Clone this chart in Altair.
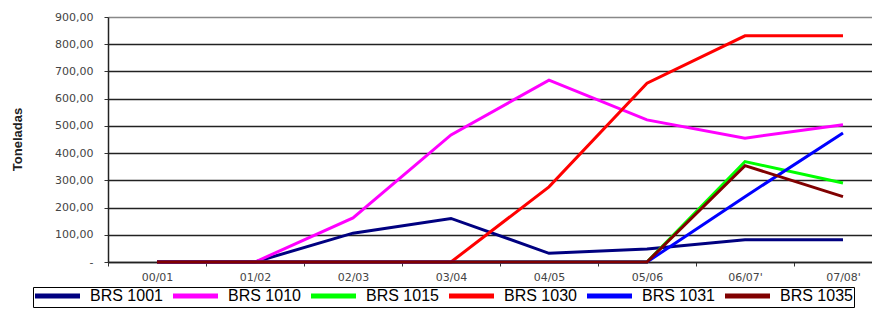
import json
import altair as alt
import pandas as pd

seasons = ["00/01", "01/02", "02/03", "03/04", "04/05", "05/06", "06/07'", "07/08'"]
series_names = ["BRS 1001", "BRS 1010", "BRS 1015", "BRS 1030", "BRS 1031", "BRS 1035"]
brs1001 = [0, 0, 106, 160, 32, 48, 82, 82]
brs1010 = [0, 0, 162, 467, 668, 522, 455, 504]
brs1015 = [0, 0, 0, 0, 0, 0, 369, 290]
brs1030 = [0, 0, 0, 0, 276, 657, 831, 831]
brs1031 = [0, 0, 0, 0, 0, 0, 240, 474]
brs1035 = [0, 0, 0, 0, 0, 0, 354, 240]
colors = ["#000080", "#FF00FF", "#00FF00", "#FF0000", "#0000FF", "#800000"]
y_ticks = [0, 100, 200, 300, 400, 500, 600, 700, 800, 900]

all_vals = [brs1001, brs1010, brs1015, brs1030, brs1031, brs1035]
rows = []
for name, vals in zip(series_names, all_vals):
    for i, (s, v) in enumerate(zip(seasons, vals)):
        rows.append({"idx": i, "season": s, "serie": name, "value": v})
df = pd.DataFrame(rows)

label_arr = json.dumps(seasons)

chart = alt.Chart(df).mark_line(strokeWidth=3).encode(
    x=alt.X(
        "idx:Q",
        scale=alt.Scale(domain=[-0.5, 7.296], nice=False, zero=False),
        axis=alt.Axis(
            title=None,
            values=[-0.5, 0.5, 1.5, 2.5, 3.5, 4.5, 5.5, 6.5],
            labelExpr=label_arr + "[datum.value + 0.5]",
            labelOffset=49,
            labelFlush=False,
            labelOverlap=False,
            labelBound=False,
            grid=False,
            tickSize=4,
            tickColor="#333",
            domainColor="#222",
            domainWidth=1.5,
            labelFont="DejaVu Sans",
            labelFontSize=11,
            labelColor="#444",
            labelPadding=5,
        ),
    ),
    y=alt.Y(
        "value:Q",
        scale=alt.Scale(domain=[0, 900], nice=False),
        axis=alt.Axis(
            title="Toneladas",
            values=y_ticks,
            labelExpr="datum.value == 0 ? '-' : replace(format(datum.value, '.2f'), '.', ',')",
            grid=True,
            gridColor={"condition": {"test": "datum.value == 900", "value": "#888888"}, "value": "#222222"},
            gridWidth=1.3,
            tickSize=4,
            tickColor="#333",
            domainColor="#222",
            domainWidth=1.5,
            labelFont="DejaVu Sans",
            labelFontSize=11,
            labelColor="#444",
            labelPadding=11,
            titleFont="Liberation Sans",
            titleFontSize=13,
            titleFontWeight="bold",
            titleColor="#222",
            titleX=-84,
            titleY=122,
            titleAngle=270,
            titleBaseline="bottom",
            titleAlign="center",
        ),
    ),
    color=alt.Color(
        "serie:N",
        scale=alt.Scale(domain=series_names, range=colors),
        legend=alt.Legend(
            title=None,
            orient="none",
            direction="horizontal",
            legendX=-75,
            legendY=270,
            symbolType="M-1.4,0H7.6",
            symbolSize=100,
            symbolStrokeWidth=5,
            labelFont="Liberation Sans",
            labelFontSize=16,
            labelColor="#000",
            labelOffset=40,
            columnPadding=0,
            padding=1,
            strokeColor="#000",
            fillColor="#ffffff",
            cornerRadius=0,
        ),
    ),
    order=alt.Order("idx:Q"),
).properties(
    width=764,
    height=245,
    autosize=alt.AutoSizeParams(type="none"),
    padding={"left": 100, "top": 9, "right": 0, "bottom": 46},
).configure_view(strokeWidth=0)

chart.save("out.html", embed_options={"renderer": "svg", "actions": False})
